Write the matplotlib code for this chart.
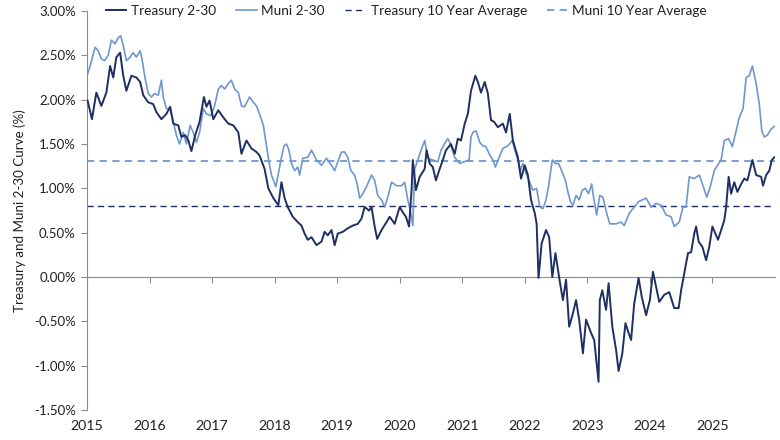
import matplotlib
matplotlib.use("Agg")
import matplotlib.pyplot as plt
from matplotlib.ticker import FuncFormatter

plt.rcParams["font.family"] = ["Lato", "DejaVu Sans"]

# values (x in decimal years, y in %)
treasury_t = [
    2015.01, 2015.08, 2015.15, 2015.23, 2015.31, 2015.37, 2015.42, 2015.47, 2015.53, 2015.58,
    2015.63, 2015.71, 2015.79, 2015.85, 2015.90, 2015.98, 2016.06, 2016.11, 2016.19, 2016.27,
    2016.33, 2016.38, 2016.46, 2016.51, 2016.57, 2016.62, 2016.67, 2016.73, 2016.80, 2016.87,
    2016.91, 2016.96, 2017.02, 2017.10, 2017.18, 2017.26, 2017.34, 2017.42, 2017.47, 2017.55,
    2017.63, 2017.71, 2017.76, 2017.84, 2017.90, 2017.98, 2018.06, 2018.11, 2018.16, 2018.21,
    2018.29, 2018.37, 2018.43, 2018.48, 2018.53, 2018.59, 2018.67, 2018.75, 2018.80, 2018.85,
    2018.91, 2018.96, 2019.01, 2019.09, 2019.17, 2019.25, 2019.33, 2019.39, 2019.44, 2019.51,
    2019.55, 2019.60, 2019.64, 2019.71, 2019.79, 2019.84, 2019.92, 2020.00, 2020.05, 2020.10,
    2020.15, 2020.19, 2020.21, 2020.26, 2020.32, 2020.40, 2020.43, 2020.48, 2020.53, 2020.58,
    2020.64, 2020.69, 2020.74, 2020.82, 2020.88, 2020.93, 2020.98, 2021.04, 2021.09, 2021.14,
    2021.21, 2021.25, 2021.30, 2021.36, 2021.41, 2021.46, 2021.51, 2021.57, 2021.65, 2021.70,
    2021.76, 2021.81, 2021.89, 2021.94, 2022.00, 2022.05, 2022.10, 2022.16, 2022.19, 2022.22,
    2022.27, 2022.34, 2022.39, 2022.44, 2022.49, 2022.56, 2022.61, 2022.66, 2022.71, 2022.77,
    2022.82, 2022.87, 2022.93, 2022.98, 2023.06, 2023.11, 2023.18, 2023.20, 2023.24, 2023.30,
    2023.34, 2023.40, 2023.46, 2023.50, 2023.56, 2023.61, 2023.66, 2023.70, 2023.75, 2023.82,
    2023.87, 2023.94, 2024.00, 2024.05, 2024.10, 2024.15, 2024.23, 2024.31, 2024.39, 2024.46,
    2024.50, 2024.55, 2024.61, 2024.66, 2024.71, 2024.74, 2024.78, 2024.84, 2024.90, 2024.95,
    2025.00, 2025.09, 2025.14, 2025.19, 2025.22, 2025.26, 2025.30, 2025.35, 2025.40, 2025.46,
    2025.51, 2025.56, 2025.64, 2025.70, 2025.78, 2025.81, 2025.86, 2025.91, 2025.95, 2025.99,
]
treasury_v = [
    1.99, 1.78, 2.08, 1.93, 2.08, 2.38, 2.25, 2.48, 2.53, 2.27,
    2.10, 2.27, 2.25, 2.20, 2.05, 1.97, 1.95, 1.86, 1.78, 1.84,
    1.92, 1.73, 1.71, 1.58, 1.60, 1.54, 1.42, 1.60, 1.75, 2.03,
    1.92, 1.99, 1.78, 1.88, 1.80, 1.73, 1.71, 1.63, 1.39, 1.54,
    1.45, 1.41, 1.37, 1.22, 1.00, 0.89, 0.81, 1.07, 0.89, 0.79,
    0.68, 0.62, 0.58, 0.49, 0.42, 0.45, 0.36, 0.40, 0.51, 0.47,
    0.53, 0.36, 0.49, 0.51, 0.55, 0.58, 0.60, 0.66, 0.79, 0.75,
    0.79, 0.57, 0.43, 0.53, 0.62, 0.68, 0.60, 0.79, 0.73, 0.68,
    0.57, 0.98, 1.32, 0.98, 1.13, 1.22, 1.43, 1.28, 1.24, 1.09,
    1.22, 1.32, 1.43, 1.50, 1.39, 1.56, 1.54, 1.73, 1.84, 2.10,
    2.27, 2.20, 2.08, 2.20, 2.07, 1.77, 1.75, 1.69, 1.73, 1.63,
    1.84, 1.54, 1.35, 1.11, 1.26, 1.15, 0.87, 0.72, 0.60, -0.01,
    0.38, 0.53, 0.45, 0.00, 0.27, -0.05, -0.26, -0.03, -0.56, -0.41,
    -0.26, -0.48, -0.86, -0.48, -0.63, -0.71, -1.18, -0.26, -0.15, -0.37,
    -0.07, -0.56, -0.82, -1.06, -0.86, -0.52, -0.63, -0.71, -0.30, -0.01,
    -0.22, -0.43, -0.26, 0.06, -0.11, -0.28, -0.20, -0.17, -0.35, -0.35,
    -0.15, 0.04, 0.27, 0.28, 0.49, 0.57, 0.40, 0.34, 0.19, 0.34,
    0.57, 0.42, 0.53, 0.64, 0.79, 1.13, 0.94, 1.07, 0.96, 1.05,
    1.11, 1.09, 1.32, 1.15, 1.13, 1.03, 1.15, 1.20, 1.32, 1.35,
]

muni_t = [
    2015.01, 2015.05, 2015.13, 2015.18, 2015.23, 2015.28, 2015.34, 2015.39, 2015.45, 2015.50,
    2015.54, 2015.58, 2015.63, 2015.69, 2015.74, 2015.79, 2015.85, 2015.88, 2015.93, 2015.98,
    2016.03, 2016.08, 2016.14, 2016.19, 2016.22, 2016.27, 2016.33, 2016.38, 2016.43, 2016.48,
    2016.54, 2016.59, 2016.65, 2016.70, 2016.75, 2016.80, 2016.86, 2016.91, 2016.98, 2017.04,
    2017.10, 2017.15, 2017.20, 2017.26, 2017.31, 2017.36, 2017.42, 2017.47, 2017.52, 2017.60,
    2017.66, 2017.71, 2017.76, 2017.82, 2017.87, 2017.91, 2017.95, 2018.02, 2018.07, 2018.11,
    2018.15, 2018.19, 2018.23, 2018.27, 2018.32, 2018.37, 2018.40, 2018.45, 2018.53, 2018.59,
    2018.67, 2018.75, 2018.83, 2018.91, 2018.96, 2019.01, 2019.07, 2019.12, 2019.17, 2019.22,
    2019.28, 2019.32, 2019.36, 2019.41, 2019.47, 2019.55, 2019.60, 2019.65, 2019.71, 2019.76,
    2019.81, 2019.87, 2019.95, 2020.03, 2020.08, 2020.13, 2020.17, 2020.21, 2020.24, 2020.29,
    2020.34, 2020.40, 2020.45, 2020.53, 2020.61, 2020.66, 2020.73, 2020.77, 2020.80, 2020.88,
    2020.96, 2021.03, 2021.11, 2021.14, 2021.17, 2021.22, 2021.28, 2021.33, 2021.38, 2021.43,
    2021.49, 2021.53, 2021.59, 2021.65, 2021.73, 2021.80, 2021.85, 2021.89, 2021.93, 2021.97,
    2022.02, 2022.08, 2022.13, 2022.19, 2022.24, 2022.29, 2022.34, 2022.38, 2022.44, 2022.49,
    2022.54, 2022.59, 2022.65, 2022.69, 2022.73, 2022.77, 2022.82, 2022.87, 2022.92, 2022.97,
    2023.02, 2023.07, 2023.10, 2023.15, 2023.20, 2023.25, 2023.31, 2023.36, 2023.46, 2023.54,
    2023.59, 2023.67, 2023.75, 2023.82, 2023.94, 2024.02, 2024.10, 2024.18, 2024.26, 2024.34,
    2024.39, 2024.47, 2024.53, 2024.58, 2024.63, 2024.71, 2024.79, 2024.84, 2024.91, 2024.97,
    2025.03, 2025.08, 2025.14, 2025.19, 2025.26, 2025.32, 2025.38, 2025.43, 2025.49, 2025.54,
    2025.59, 2025.64, 2025.70, 2025.75, 2025.79, 2025.83, 2025.88, 2025.94, 2025.99,
]
muni_v = [
    2.29, 2.38, 2.59, 2.55, 2.46, 2.44, 2.50, 2.67, 2.63, 2.70,
    2.72, 2.61, 2.44, 2.48, 2.53, 2.48, 2.55, 2.46, 2.24, 2.07,
    2.03, 2.07, 2.05, 2.22, 2.03, 1.90, 1.90, 1.75, 1.60, 1.50,
    1.63, 1.50, 1.71, 1.63, 1.52, 1.63, 1.90, 1.84, 1.82, 1.93,
    2.12, 2.16, 2.12, 2.18, 2.22, 2.12, 2.08, 1.93, 1.92, 2.03,
    1.97, 1.93, 1.84, 1.71, 1.48, 1.30, 1.15, 1.02, 1.20, 1.35,
    1.48, 1.50, 1.43, 1.28, 1.20, 1.24, 1.15, 1.34, 1.35, 1.43,
    1.32, 1.26, 1.34, 1.26, 1.20, 1.30, 1.41, 1.41, 1.35, 1.20,
    1.15, 1.05, 0.89, 0.94, 1.02, 1.15, 1.09, 0.92, 0.87, 0.79,
    0.90, 1.07, 1.03, 1.03, 1.07, 0.87, 0.75, 0.58, 1.22, 1.32,
    1.43, 1.54, 1.34, 1.32, 1.30, 1.43, 1.52, 1.56, 1.52, 1.35,
    1.28, 1.30, 1.32, 1.58, 1.63, 1.65, 1.52, 1.48, 1.47, 1.39,
    1.32, 1.24, 1.35, 1.45, 1.48, 1.54, 1.41, 1.32, 1.20, 1.28,
    1.17, 1.07, 0.98, 1.00, 0.79, 0.77, 0.87, 1.02, 1.32, 1.28,
    1.28, 1.20, 1.09, 0.96, 0.85, 0.81, 0.92, 0.87, 0.98, 1.00,
    0.94, 1.05, 0.90, 0.70, 0.92, 0.90, 0.72, 0.60, 0.60, 0.62,
    0.58, 0.72, 0.79, 0.85, 0.89, 0.79, 0.83, 0.81, 0.70, 0.68,
    0.57, 0.62, 0.79, 0.79, 1.13, 1.11, 1.15, 1.05, 0.90, 1.03,
    1.20, 1.26, 1.32, 1.54, 1.56, 1.47, 1.65, 1.80, 1.90, 2.25,
    2.27, 2.38, 2.18, 1.95, 1.65, 1.58, 1.60, 1.67, 1.70,
]

treasury_avg = 0.80
muni_avg = 1.31

years = list(range(2015, 2026))
y_ticks = [-1.5, -1.0, -0.5, 0.0, 0.5, 1.0, 1.5, 2.0, 2.5, 3.0]

navy = "#1d2f63"
light = "#6f97cf"
grey = "#8c8c8c"
text_c = "#231f20"

fig = plt.figure(figsize=(7.8, 4.4), dpi=100)
ax = fig.add_axes([0.1115, 0.068, 0.882, 0.907])

ax.plot(treasury_t, treasury_v, color=navy, lw=1.4, label="Treasury 2-30", zorder=3)
ax.plot(muni_t, muni_v, color=light, lw=1.2, label="Muni 2-30", zorder=2)
ax.axhline(treasury_avg, color=navy, lw=1.0, ls=(0, (4.5, 3)), label="Treasury 10 Year Average", zorder=1)
ax.axhline(muni_avg, color=light, lw=1.3, ls=(0, (4, 3)), label="Muni 10 Year Average", zorder=1)

ax.set_xlim(2015, 2026)
ax.set_ylim(-1.5, 3.0)
ax.set_yticks(y_ticks)
ax.yaxis.set_major_formatter(FuncFormatter(lambda v, _: f"{v:.2f}%"))
ax.set_ylabel("Treasury and Muni 2-30 Curve (%)", fontsize=9.6, color=text_c, labelpad=6)

for s in ["top", "right"]:
    ax.spines[s].set_visible(False)
ax.spines["left"].set_color(grey)
ax.spines["bottom"].set_color(grey)
ax.spines["bottom"].set_position(("data", 0))

ax.set_xticks(years)
ax.tick_params(axis="x", length=4, color=grey, labelbottom=False)
ax.tick_params(axis="y", length=4, color=grey, labelsize=9.5, labelcolor=text_c, pad=4)

# year labels sit at the bottom of the plot, ticks stay on the zero line
sec = ax.secondary_xaxis(0)
sec.set_xticks(years)
sec.set_xticklabels([str(y) for y in years])
sec.spines["bottom"].set_visible(False)
sec.tick_params(length=0, pad=7, labelsize=10.2, labelcolor=text_c)

leg = ax.legend(loc="center left", bbox_to_anchor=(0.027, 1.0), ncol=4, frameon=False,
                fontsize=9.8, handlelength=1.5, handletextpad=0.35, columnspacing=1.5,
                borderaxespad=0, borderpad=0)
for t in leg.get_texts():
    t.set_color(text_c)

fig.savefig("out.png", dpi=100)
